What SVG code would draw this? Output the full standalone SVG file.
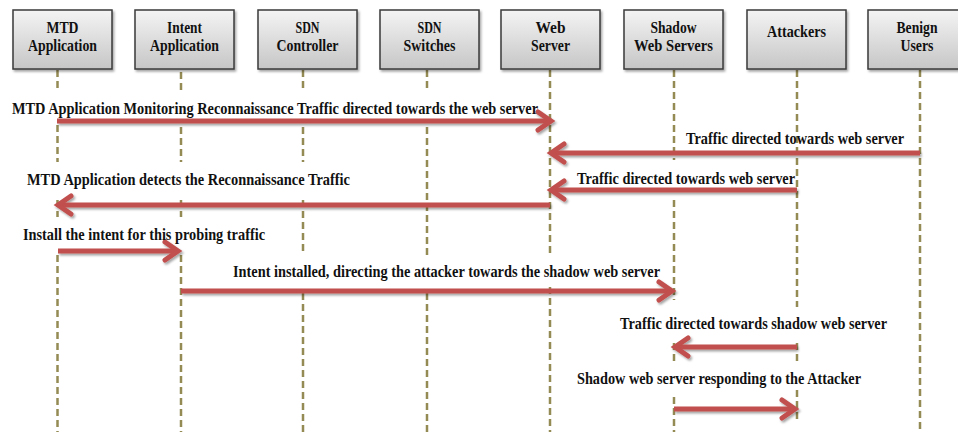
<svg xmlns="http://www.w3.org/2000/svg" width="958" height="432" viewBox="0 0 958 432">
<defs>
<linearGradient id="boxg" x1="0" y1="0" x2="0" y2="1">
<stop offset="0" stop-color="#f4f4f4"/>
<stop offset="1" stop-color="#c6c6c6"/>
</linearGradient>
<filter id="sh" filterUnits="userSpaceOnUse" x="0" y="0" width="958" height="432">
<feDropShadow dx="1.5" dy="2" stdDeviation="1.2" flood-color="#000" flood-opacity="0.35"/>
</filter>
<marker id="ah" markerUnits="userSpaceOnUse" markerWidth="24" markerHeight="24" viewBox="-18 -12 22 24" refX="0" refY="0" orient="auto">
<path d="M-13,-9 L0,0 L-13,9" fill="none" stroke="#C0504D" stroke-width="5" stroke-linecap="round" stroke-linejoin="miter"/>
</marker>
<style>
.box{fill:url(#boxg);stroke:#3a3a3a;stroke-width:1.5;filter:url(#sh)}
.bt{font-family:'Liberation Serif','DejaVu Serif',serif;font-weight:bold;font-size:16px;fill:#111;text-anchor:middle}
.lt{font-family:'Liberation Serif','DejaVu Serif',serif;font-weight:bold;font-size:16px;fill:#111}
.life{stroke:#948A54;stroke-width:2.5;stroke-dasharray:7 4;fill:none}
.msg{stroke:#C0504D;stroke-width:5;fill:none;marker-end:url(#ah);filter:url(#sh)}
</style>
</defs>
<rect width="958" height="432" fill="#fff"/>

<g id="lifelines">
<path class="life" d="M57.5,70V92M57.5,125V162M57.5,200V217M57.5,255V432"/>
<path class="life" d="M181,72V92M181,127V162M181,200V217M181,255V432"/>
<path class="life" d="M303,70V92M303,127V162M303,200V255M303,293V432"/>
<path class="life" d="M427,70V92M427,127V257M427,293V432"/>
<path class="life" d="M550,70V257M550,287V432"/>
<path class="life" d="M674,70V160M674,200V300M674,343V362M674,397V432"/>
<path class="life" d="M797,70V307M797,343V362M797,390V423"/>
<path class="life" d="M920,70V432"/>
</g>

<g id="n-mtd"><rect class="box" x="13" y="10" width="99" height="59"/><text class="bt" x="62.5" y="33" textLength="32" lengthAdjust="spacingAndGlyphs">MTD</text><text class="bt" x="62.5" y="51" textLength="69" lengthAdjust="spacingAndGlyphs">Application</text></g>
<g id="n-intent"><rect class="box" x="135" y="10" width="99" height="59"/><text class="bt" x="184.5" y="33" textLength="35" lengthAdjust="spacingAndGlyphs">Intent</text><text class="bt" x="184.5" y="51" textLength="69" lengthAdjust="spacingAndGlyphs">Application</text></g>
<g id="n-ctrl"><rect class="box" x="258" y="10" width="99" height="59"/><text class="bt" x="307.5" y="33" textLength="24" lengthAdjust="spacingAndGlyphs">SDN</text><text class="bt" x="307.5" y="51" textLength="62" lengthAdjust="spacingAndGlyphs">Controller</text></g>
<g id="n-switch"><rect class="box" x="380" y="10" width="99" height="59"/><text class="bt" x="429.5" y="33" textLength="24" lengthAdjust="spacingAndGlyphs">SDN</text><text class="bt" x="429.5" y="51" textLength="52" lengthAdjust="spacingAndGlyphs">Switches</text></g>
<g id="n-web"><rect class="box" x="501" y="10" width="99" height="59"/><text class="bt" x="550.5" y="33" textLength="30" lengthAdjust="spacingAndGlyphs">Web</text><text class="bt" x="550.5" y="51" textLength="39" lengthAdjust="spacingAndGlyphs">Server</text></g>
<g id="n-shadow"><rect class="box" x="624" y="10" width="99" height="59"/><text class="bt" x="673.5" y="33" textLength="46" lengthAdjust="spacingAndGlyphs">Shadow</text><text class="bt" x="673.5" y="51" textLength="79" lengthAdjust="spacingAndGlyphs">Web Servers</text></g>
<g id="n-attack"><rect class="box" x="747" y="10" width="99" height="59"/><text class="bt" x="796.5" y="37" textLength="59" lengthAdjust="spacingAndGlyphs">Attackers</text></g>
<g id="n-benign"><rect class="box" x="868" y="10" width="99" height="59"/><text class="bt" x="917" y="33" textLength="41" lengthAdjust="spacingAndGlyphs">Benign</text><text class="bt" x="917" y="51" textLength="33" lengthAdjust="spacingAndGlyphs">Users</text></g>

<g id="connectors">
<path class="msg" d="M57,121H551"/>
<path class="msg" d="M920,153H551"/>
<path class="msg" d="M797,190H551"/>
<path class="msg" d="M550,205H58"/>
<path class="msg" d="M58,251H178"/>
<path class="msg" d="M181,291H672"/>
<path class="msg" d="M797,347H675"/>
<path class="msg" d="M674,409H795"/>
</g>

<g id="labels">
<text class="lt" x="12" y="114" textLength="526" lengthAdjust="spacingAndGlyphs">MTD Application  Monitoring Reconnaissance Traffic directed towards the web server</text>
<text class="lt" x="686" y="144" textLength="218" lengthAdjust="spacingAndGlyphs">Traffic directed towards web server</text>
<text class="lt" x="577" y="184" textLength="218" lengthAdjust="spacingAndGlyphs">Traffic directed towards web server</text>
<text class="lt" x="27" y="185" textLength="323" lengthAdjust="spacingAndGlyphs">MTD Application  detects the Reconnaissance Traffic</text>
<text class="lt" x="23" y="240" textLength="242" lengthAdjust="spacingAndGlyphs">Install the intent  for this probing traffic</text>
<text class="lt" x="233" y="277" textLength="427" lengthAdjust="spacingAndGlyphs">Intent installed, directing the attacker towards the shadow web server</text>
<text class="lt" x="620" y="329" textLength="267" lengthAdjust="spacingAndGlyphs">Traffic directed towards shadow web server</text>
<text class="lt" x="577" y="384" textLength="284" lengthAdjust="spacingAndGlyphs">Shadow web server responding to the Attacker</text>
</g>
</svg>
